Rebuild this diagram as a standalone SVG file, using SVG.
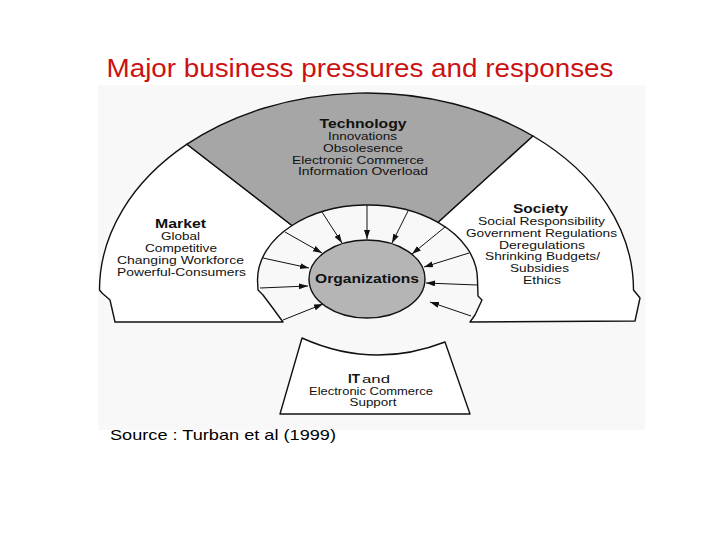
<svg xmlns="http://www.w3.org/2000/svg" width="720" height="540" viewBox="0 0 720 540">
<defs>
<style>
.t{font-family:"Liberation Sans",Arial,sans-serif;fill:#111;text-anchor:middle}
.h{font-size:12.5px;font-weight:bold}
.i{font-size:11px}
.shape{stroke:#111;stroke-width:1.4;stroke-linejoin:round}
.arr{stroke:#111;stroke-width:1;fill:none;marker-end:url(#ah)}
</style>
<marker id="ah" markerUnits="userSpaceOnUse" markerWidth="10" markerHeight="7" refX="9" refY="3" orient="auto">
<path d="M0,0 L9,3 L0,6 Z" fill="#111"/>
</marker>
</defs>
<rect width="720" height="540" fill="#fff"/>
<rect x="98" y="85" width="547" height="345" fill="#f8f8f8"/>
<text x="360" y="77" font-family="Liberation Sans, Arial, sans-serif" font-size="26" fill="#cc1111" text-anchor="middle" textLength="507" lengthAdjust="spacingAndGlyphs">Major business pressures and responses</text>

<g id="node-market">
<path class="shape" fill="#fff" d="M115,322 L110,300 L102,293 L99.5,290 A267,197 0 0,1 187,144.2 L292,225.5 A110,75 0 0,0 257.5,280 L258,290 L263,295 L272,307 L283,322 Z"/>
<text class="t h" x="180.5" y="228" textLength="51" lengthAdjust="spacingAndGlyphs">Market</text>
<text class="t i" x="180.5" y="240" textLength="39" lengthAdjust="spacingAndGlyphs">Global</text>
<text class="t i" x="181" y="252" textLength="72" lengthAdjust="spacingAndGlyphs">Competitive</text>
<text class="t i" x="180.5" y="264" textLength="127" lengthAdjust="spacingAndGlyphs">Changing Workforce</text>
<text class="t i" x="181.5" y="276" textLength="129" lengthAdjust="spacingAndGlyphs">Powerful-Consumers</text>
</g>

<g id="node-technology">
<path class="shape" fill="#a6a6a6" d="M187,144.2 A267,197 0 0,1 533,136 L438,222.4 A110,75 0 0,0 292,225.5 Z"/>
<text class="t h" x="363" y="128" textLength="87" lengthAdjust="spacingAndGlyphs">Technology</text>
<text class="t i" x="362.5" y="140" textLength="69" lengthAdjust="spacingAndGlyphs">Innovations</text>
<text class="t i" x="363" y="152" textLength="80" lengthAdjust="spacingAndGlyphs">Obsolesence</text>
<text class="t i" x="358" y="164" textLength="132" lengthAdjust="spacingAndGlyphs">Electronic Commerce</text>
<text class="t i" x="363" y="175" textLength="130" lengthAdjust="spacingAndGlyphs">Information Overload</text>
</g>

<g id="node-society">
<path class="shape" fill="#fff" d="M533,136 A267,197 0 0,1 633.5,290 L640,298 L635,321 L470,322 L475,315 L482,300 L478,296 L477.5,280 A110,75 0 0,0 438,222.4 Z"/>
<text class="t h" x="540.5" y="213" textLength="55" lengthAdjust="spacingAndGlyphs">Society</text>
<text class="t i" x="541.5" y="225" textLength="127" lengthAdjust="spacingAndGlyphs">Social Responsibility</text>
<text class="t i" x="541.5" y="237" textLength="151" lengthAdjust="spacingAndGlyphs">Government Regulations</text>
<text class="t i" x="542" y="249" textLength="86" lengthAdjust="spacingAndGlyphs">Deregulations</text>
<text class="t i" x="542.5" y="260" textLength="115" lengthAdjust="spacingAndGlyphs">Shrinking Budgets/</text>
<text class="t i" x="539.5" y="272" textLength="59" lengthAdjust="spacingAndGlyphs">Subsidies</text>
<text class="t i" x="542" y="284" textLength="38" lengthAdjust="spacingAndGlyphs">Ethics</text>
</g>

<g id="node-organizations">
<ellipse class="shape" cx="367" cy="279" rx="58" ry="39" fill="#b5b5b5"/>
<text class="t h" x="367" y="283" textLength="104" lengthAdjust="spacingAndGlyphs">Organizations</text>
</g>

<g id="node-it">
<path class="shape" fill="#fff" d="M302,338 Q373,370 445,342 L470,414 L280,414 Z"/>
<text class="t h" x="348" y="383" style="text-anchor:start" textLength="12" lengthAdjust="spacingAndGlyphs">IT</text>
<text class="t i" x="362" y="383" style="text-anchor:start" textLength="28" lengthAdjust="spacingAndGlyphs">and</text>
<text class="t i" x="371" y="395" textLength="124" lengthAdjust="spacingAndGlyphs">Electronic Commerce</text>
<text class="t i" x="373" y="406" textLength="47" lengthAdjust="spacingAndGlyphs">Support</text>
</g>

<g id="connectors">
<line class="arr" x1="285" y1="232" x2="322" y2="253"/>
<line class="arr" x1="263" y1="258" x2="309" y2="268"/>
<line class="arr" x1="260" y1="288" x2="308" y2="286"/>
<line class="arr" x1="283" y1="320" x2="323" y2="304"/>
<line class="arr" x1="322" y1="212" x2="342" y2="243"/>
<line class="arr" x1="367" y1="205" x2="367" y2="239"/>
<line class="arr" x1="408" y1="211" x2="392" y2="243"/>
<line class="arr" x1="445" y1="227" x2="412" y2="254"/>
<line class="arr" x1="469" y1="253" x2="424" y2="267"/>
<line class="arr" x1="477" y1="285" x2="426" y2="283"/>
<line class="arr" x1="471" y1="316" x2="430" y2="302"/>
</g>

<text x="110" y="440" font-family="Liberation Sans, Arial, sans-serif" font-size="15" fill="#000" textLength="226" lengthAdjust="spacingAndGlyphs">Source : Turban et al (1999)</text>
</svg>
